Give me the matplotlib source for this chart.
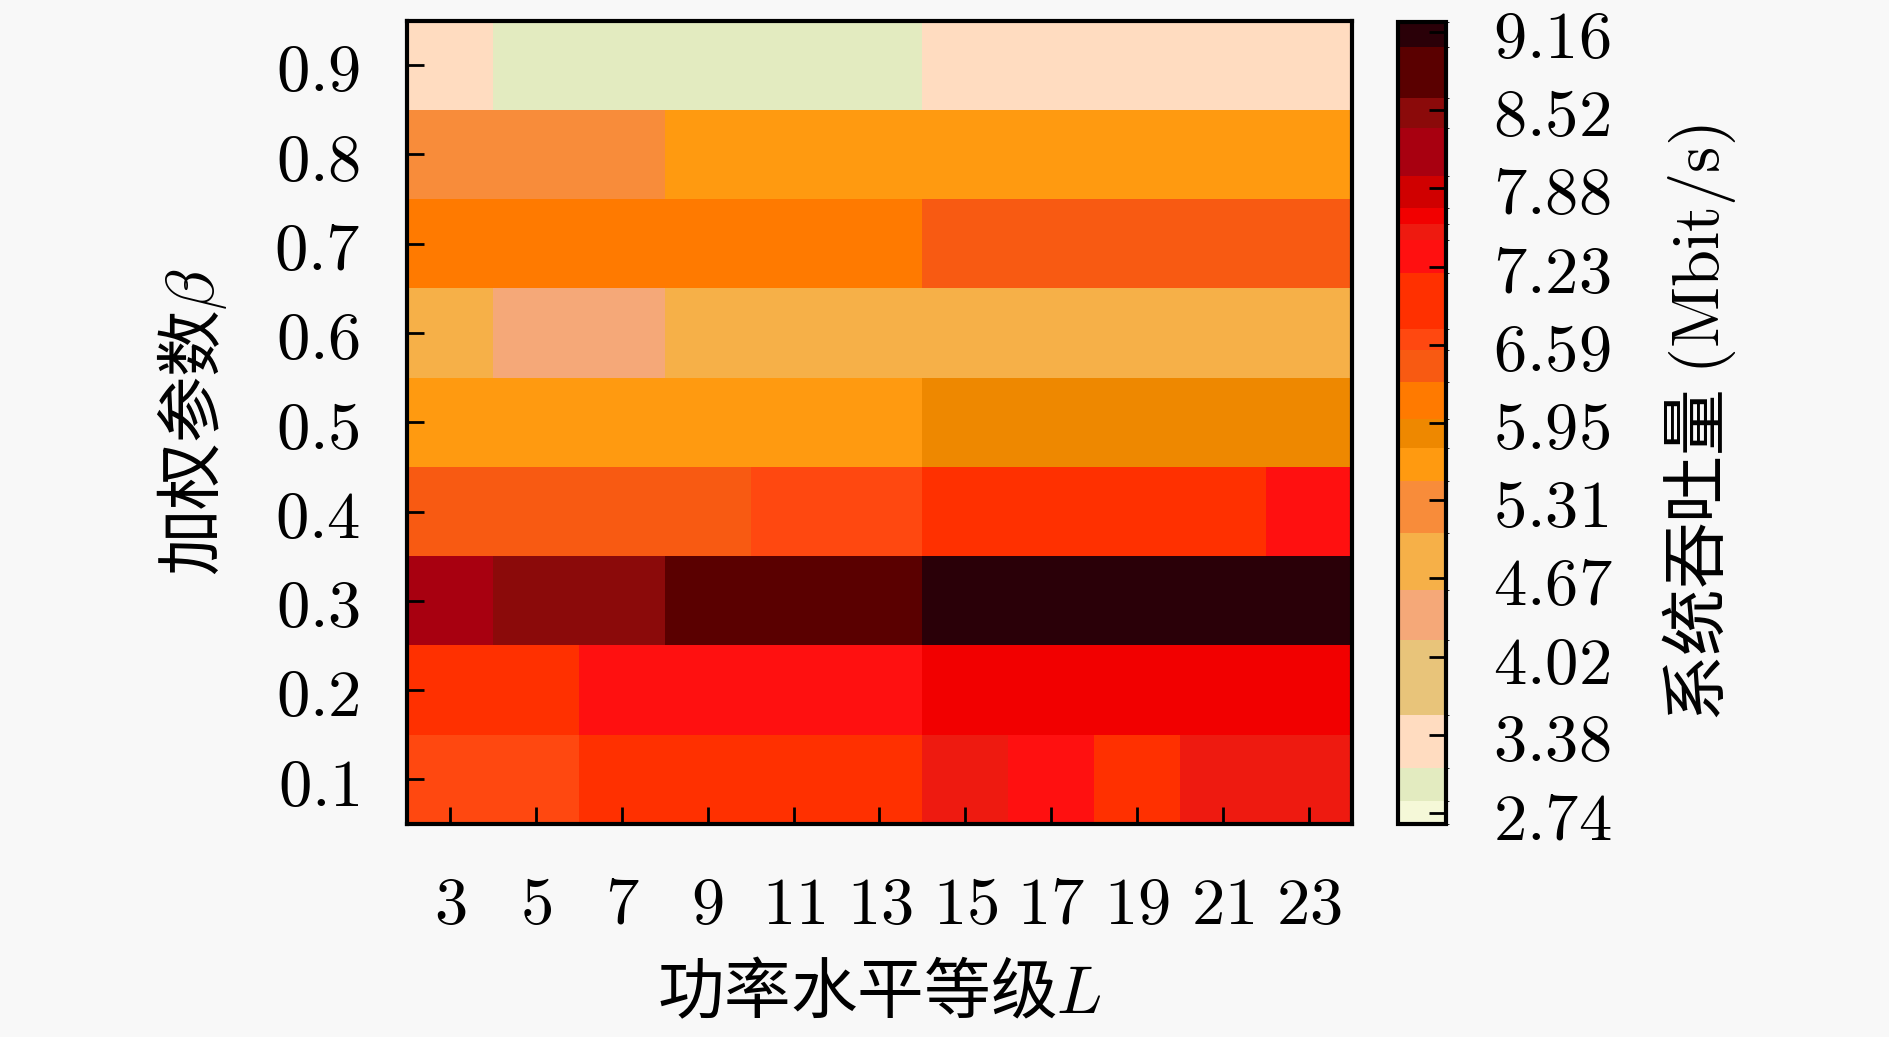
import numpy as np
import matplotlib
matplotlib.use("Agg")
import matplotlib.pyplot as plt
from matplotlib.colors import ListedColormap, BoundaryNorm

plt.rcParams['font.family'] = ['Noto Sans CJK SC', 'DejaVu Sans']
plt.rcParams['mathtext.fontset'] = 'cm'

# ---- data ----
L_levels = [3, 5, 7, 9, 11, 13, 15, 17, 19, 21, 23]
beta = [0.1, 0.2, 0.3, 0.4, 0.5, 0.6, 0.7, 0.8, 0.9]

row_01 = [6.63, 6.63, 6.95, 6.95, 6.95, 6.95, 7.51, 7.31, 6.95, 7.51, 7.51]
row_02 = [6.95, 6.95, 7.31, 7.31, 7.31, 7.31, 7.64, 7.64, 7.64, 7.64, 7.64]
row_03 = [8.17, 8.50, 8.50, 8.83, 8.83, 8.83, 9.14, 9.14, 9.14, 9.14, 9.14]
row_04 = [6.42, 6.42, 6.42, 6.42, 6.63, 6.63, 6.95, 6.95, 6.95, 6.95, 7.31]
row_05 = [5.60, 5.60, 5.60, 5.60, 5.60, 5.60, 5.86, 5.86, 5.86, 5.86, 5.86]
row_06 = [4.80, 4.36, 4.36, 4.80, 4.80, 4.80, 4.80, 4.80, 4.80, 4.80, 4.80]
row_07 = [6.13, 6.13, 6.13, 6.13, 6.13, 6.13, 6.42, 6.42, 6.42, 6.42, 6.42]
row_08 = [5.25, 5.25, 5.25, 5.60, 5.60, 5.60, 5.60, 5.60, 5.60, 5.60, 5.60]
row_09 = [3.33, 2.97, 2.97, 2.97, 2.97, 2.97, 3.33, 3.33, 3.33, 3.33, 3.33]

cbar_ticks = [2.74, 3.38, 4.02, 4.67, 5.31, 5.95, 6.59, 7.23, 7.88, 8.52, 9.16]

level_bounds = [2.65, 2.84, 3.11, 3.55, 4.16, 4.57, 5.04, 5.47, 5.74, 5.98,
                6.28, 6.55, 6.72, 7.18, 7.45, 7.58, 7.71, 7.98, 8.37, 8.62,
                9.04, 9.245]
level_colors = ['#f5f8d8', '#e3ebc0', '#ffdcc0', '#e8c47a', '#f5a878', '#f6b048',
                '#f88c3a', '#ff9a10', '#ee8800', '#ff7a00', '#f85a12', '#ff4810',
                '#ff3000', '#ff1010', '#ee1a10', '#f20000', '#d00000', '#a80010',
                '#8b0a0a', '#5a0000', '#2a0008']

Z = np.array([row_01, row_02, row_03, row_04, row_05, row_06, row_07, row_08, row_09])

cmap = ListedColormap(level_colors)
norm = BoundaryNorm(level_bounds, cmap.N)

bg = '#f8f8f8'
fig = plt.figure(figsize=(18.9, 10.37), dpi=100, facecolor=bg)
ax = fig.add_axes([0.2153, 0.2054, 0.5, 0.7748])

Lx = np.array(L_levels, dtype=float)
By = np.array(beta, dtype=float)
dx = Lx[1] - Lx[0]
dy = By[1] - By[0]
x_edges = np.concatenate([Lx - dx / 2, [Lx[-1] + dx / 2]])
y_edges = np.concatenate([By - dy / 2, [By[-1] + dy / 2]])
mesh = ax.pcolormesh(x_edges, y_edges, Z, cmap=cmap, norm=norm, shading='flat')
ax.set_xlim(x_edges[0], x_edges[-1])
ax.set_ylim(y_edges[0], y_edges[-1])

fs = 48
ax.set_xticks(L_levels)
ax.set_xticklabels([r'$%d$' % v for v in L_levels], fontsize=fs)
ax.set_yticks(beta)
ax.set_yticklabels([r'$%.1f$' % v for v in beta], fontsize=fs)
ax.tick_params(axis='both', direction='in', length=12, width=2, color='black',
               top=False, right=False, pad=34)
for s in ax.spines.values():
    s.set_linewidth(3)
ax.set_xlabel(r'功率水平等级$L$', fontsize=fs, labelpad=16)
ax.set_ylabel(r'加权参数$\beta$', fontsize=fs, labelpad=32)

cax = fig.add_axes([0.7397, 0.2054, 0.0254, 0.7737])
cbar = fig.colorbar(mesh, cax=cax, spacing='proportional', ticks=cbar_ticks)
cbar.ax.set_yticklabels([r'$%.2f$' % v for v in cbar_ticks], fontsize=fs)
cbar.ax.tick_params(direction='in', length=12, width=2, color='black', pad=34,
                    left=False, right=True)
cbar.outline.set_linewidth(3)
cbar.set_label(r'系统吞吐量 $(\mathrm{Mbit/s})$', fontsize=fs, labelpad=34)

fig.savefig('out.png', dpi=100, facecolor=bg)
